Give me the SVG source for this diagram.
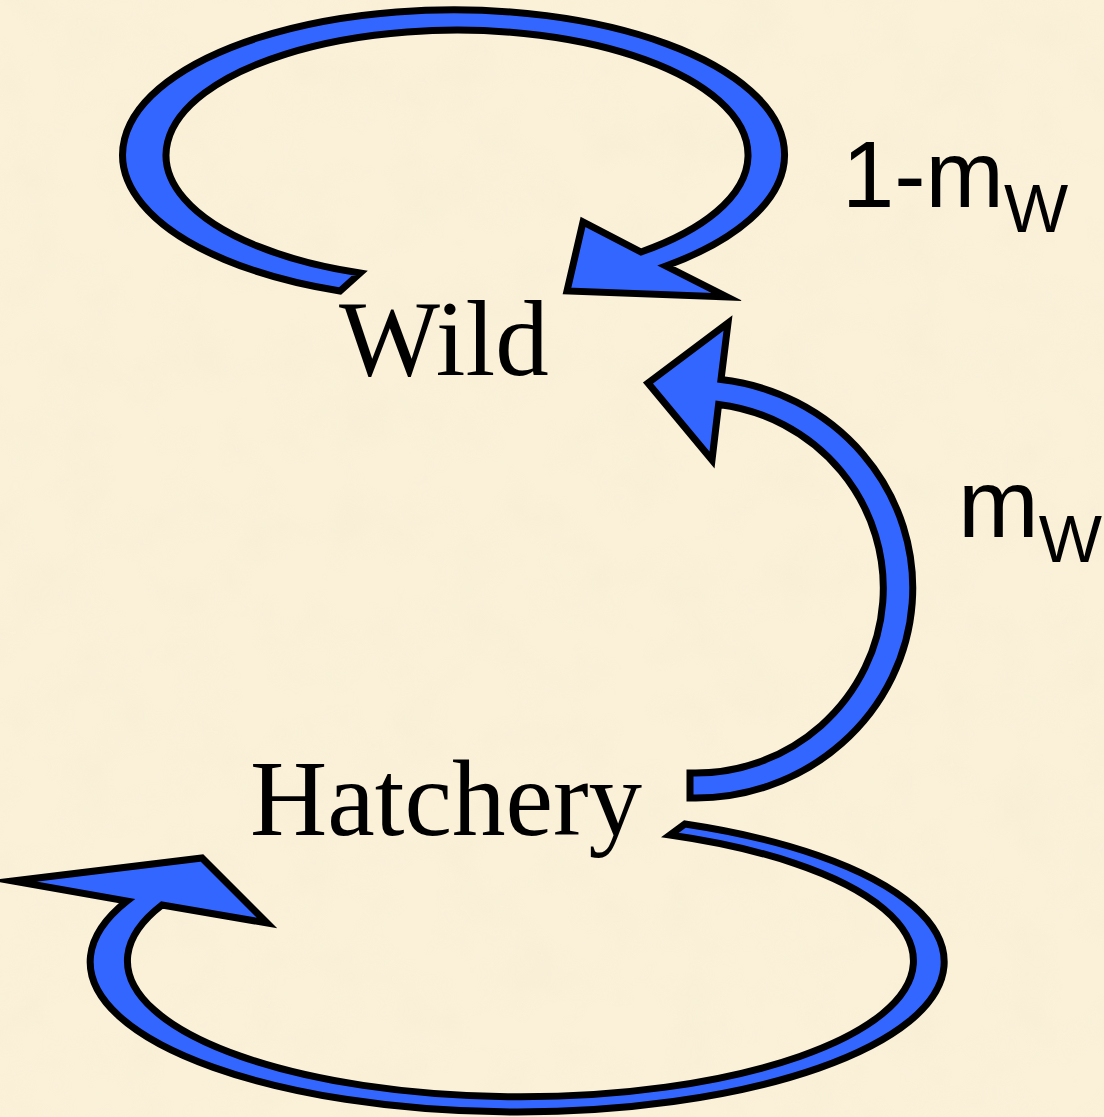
<svg xmlns="http://www.w3.org/2000/svg" width="1104" height="1117" viewBox="0 0 1104 1117">
  <defs>
    <filter id="parchment" x="0" y="0" width="100%" height="100%">
      <feTurbulence type="fractalNoise" baseFrequency="0.018" numOctaves="3" seed="7" result="n"/>
      <feColorMatrix in="n" type="matrix" values="0 0 0 0 0.92  0 0 0 0 0.84  0 0 0 0 0.66  0 0 0 1.5 -0.55"/>
    </filter>
    <style>
      .arrow { fill: #3366FF; stroke: #000; stroke-width: 7; stroke-linejoin: miter; stroke-miterlimit: 10; }
      .node { font-family: "Liberation Serif", "Times New Roman", serif; font-size: 107px; fill: #000; }
      .rate { font-family: "Liberation Sans", Arial, sans-serif; fill: #000; }
    </style>
  </defs>

  <!-- parchment background -->
  <rect width="1104" height="1117" fill="#FBF1D9"/>
  <rect width="1104" height="1117" filter="url(#parchment)" opacity="0.55"/>

  <g id="connectors">
    <!-- Wild -> Wild (1 - mW) -->
    <path id="loop-wild" class="arrow" d="M 340 291 A 331 145 0 1 1 666 266 L 727 297 L 567 291 L 583 222 L 641 252 A 291 125 0 1 0 360 273 Z"/>
    <!-- Hatchery -> Wild (mW) -->
    <path id="hatchery-to-wild" class="arrow" d="M 690 798 A 217 210 0 0 0 721 379.5 L 728 323 L 648 383 L 712 460 L 718.6 404.5 A 188 185 0 0 1 690 773 Z"/>
    <!-- Hatchery -> Hatchery -->
    <path id="loop-hatchery" class="arrow" d="M 685 824 A 427 150 0 1 1 127 901 L 13 881 L 202 858 L 267 923 L 162 905 A 393 136 0 1 0 670 835 Z"/>
  </g>

  <g id="node-wild">
    <text class="node" x="339" y="375">Wild</text>
  </g>
  <g id="node-hatchery">
    <text class="node" x="250" y="835">Hatchery</text>
  </g>

  <g id="label-stay">
    <text class="rate" x="842" y="207" font-size="94">1-m<tspan font-size="68" dy="25">W</tspan></text>
  </g>
  <g id="label-migrate">
    <text class="rate" x="958" y="537" font-size="97">m<tspan font-size="67" dy="25">W</tspan></text>
  </g>
</svg>
